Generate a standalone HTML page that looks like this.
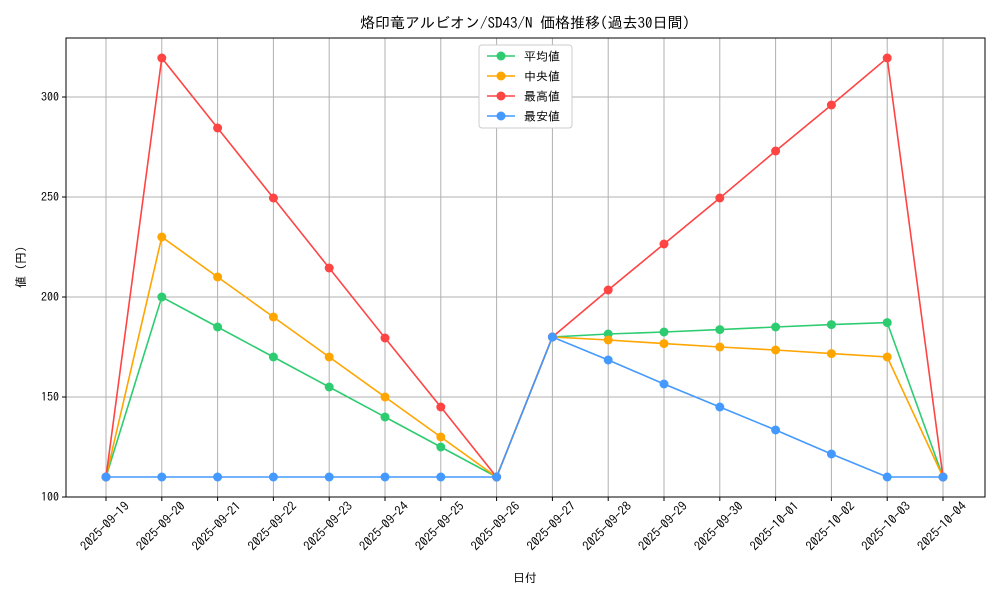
<!DOCTYPE html>
<html><head><meta charset="utf-8"><style>
html,body{margin:0;padding:0;background:#fff;}
svg{display:block;font-family:"IPAGothic","Liberation Sans","Noto Sans CJK JP",sans-serif;}
</style></head><body>
<svg id="chart" width="1000" height="600">
<text x="525" y="28" text-anchor="middle" font-size="15">烙印竜アルビオン/SD43/N 価格推移(過去30日間)</text>
<g id="grid"></g><g id="axes"></g><g id="series"></g><g id="legend"></g>
<text x="525" y="582" text-anchor="middle" font-size="12">日付</text>
<text x="25" y="267" text-anchor="middle" font-size="12" transform="rotate(-90 25 267)">値 (円)</text>
</svg>
<script>
const dates=["2025-09-19","2025-09-20","2025-09-21","2025-09-22","2025-09-23","2025-09-24","2025-09-25","2025-09-26","2025-09-27","2025-09-28","2025-09-29","2025-09-30","2025-10-01","2025-10-02","2025-10-03","2025-10-04"];
const avgVals=[110,200,185,170,155,140,125,110,180,181.5,182.5,183.7,185,186.2,187.2,110];
const medVals=[110,230,210,190,170,150,130,110,180,178.5,176.7,175,173.5,171.7,170,110];
const maxVals=[110,319.5,284.5,249.5,214.5,179.5,145,110,180,203.5,226.5,249.5,273,296,319.5,110];
const minVals=[110,110,110,110,110,110,110,110,180,168.5,156.5,145,133.5,121.5,110,110];
const yTicks=[100,150,200,250,300];
const seriesNames=["平均値","中央値","最高値","最安値"];
const seriesColors=["#2ecc71","#ffa500","#ff4444","#4499ff"];
const L=66,R=985,T=38,B=497;
const X0=106,X1=943;
const x=i=>X0+(X1-X0)*i/(dates.length-1);
const y=v=>B-(v-100)*2;
const NS="http://www.w3.org/2000/svg";
function mk(tag,attrs,parent){const e=document.createElementNS(NS,tag);for(const k in attrs)e.setAttribute(k,attrs[k]);parent.appendChild(e);return e;}
const grid=document.getElementById('grid'),axes=document.getElementById('axes'),ser=document.getElementById('series'),leg=document.getElementById('legend');
dates.forEach((d,i)=>{
 const g=mk('line',{x1:x(i),x2:x(i),y1:T,y2:B,stroke:'#b0b0b0','stroke-width':1},grid);
 
 
 mk('line',{x1:x(i),x2:x(i),y1:B,y2:B+4,stroke:'#000'},axes);
 const tx=x(i)+24, ty=B+10;
 const t=mk('text',{x:tx,y:ty,'font-size':12.5,'text-anchor':'end',transform:`rotate(-45 ${tx} ${ty})`},axes);
 t.textContent=d;
 
 
});
yTicks.forEach(v=>{
 const g=mk('line',{x1:L,x2:R,y1:y(v),y2:y(v),stroke:'#b0b0b0','stroke-width':1},grid);
 
 
 mk('line',{x1:L-4,x2:L,y1:y(v),y2:y(v),stroke:'#000'},axes);
 const t=mk('text',{x:L-7,y:y(v)+4,'font-size':12,'text-anchor':'end'},axes);
 t.textContent=v;
 
 
});
const fr=mk('rect',{x:L,y:T,width:R-L,height:B-T,fill:'none',stroke:'#000','stroke-width':1},axes);


const all=[avgVals,medVals,maxVals,minVals];
all.forEach((vals,s)=>{
 const g=mk('g',{},ser);
 
 
 mk('polyline',{points:vals.map((v,i)=>x(i)+','+y(v)).join(' '),fill:'none',stroke:seriesColors[s],'stroke-width':1.6},g);
 vals.forEach((v,i)=>{
  const c=mk('circle',{cx:x(i),cy:y(v),r:4.5,fill:seriesColors[s]},g);
  
  
 });
});
const lb=mk('rect',{x:479,y:45,width:93,height:83,fill:'#fff',stroke:'#ccc',rx:3},leg);


seriesNames.forEach((n,s)=>{
 const yy=56+s*20;
 const g=mk('g',{},leg);
 
 
 mk('line',{x1:487,x2:515,y1:yy,y2:yy,stroke:seriesColors[s],'stroke-width':1.6},g);
 mk('circle',{cx:501,cy:yy,r:4.5,fill:seriesColors[s]},g);
 const t=mk('text',{x:524,y:yy+4.5,'font-size':12},g);
 t.textContent=n;
});
</script>
</body></html>
